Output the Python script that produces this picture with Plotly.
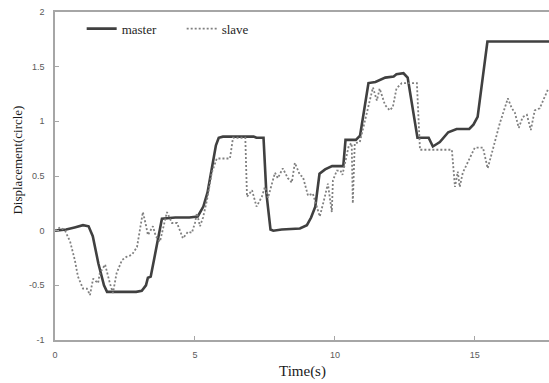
import plotly.graph_objects as go

master_t = [0, 0.4, 0.7, 1.0, 1.2, 1.35, 1.55, 1.75, 1.86, 2.9, 3.1, 3.25, 3.32, 3.42, 3.55, 3.7, 3.82,
            4.3, 4.8, 5.1, 5.3, 5.45, 5.6, 5.75, 5.85, 6.0, 7.1, 7.2, 7.45, 7.55, 7.7, 7.8, 8.1, 8.75,
            9.0, 9.15, 9.3, 9.45, 9.65, 9.9, 10.3, 10.38, 10.75, 10.9, 11.2, 11.45, 11.8, 12.1, 12.2,
            12.45, 12.6, 12.95, 13.35, 13.5, 13.75, 14.05, 14.35, 14.8, 14.95, 15.1, 15.45, 17.65]
master_v = [0, 0.01, 0.03, 0.05, 0.04, -0.05, -0.3, -0.5, -0.56, -0.56, -0.55, -0.5, -0.43, -0.42, -0.25, -0.05, 0.11,
            0.12, 0.12, 0.13, 0.22, 0.35, 0.55, 0.78, 0.85, 0.86, 0.86, 0.85, 0.85, 0.35, 0.01, 0.0, 0.01, 0.02,
            0.05, 0.12, 0.22, 0.52, 0.56, 0.59, 0.59, 0.83, 0.83, 0.87, 1.35, 1.36, 1.40, 1.41, 1.43,
            1.44, 1.40, 0.85, 0.85, 0.77, 0.81, 0.90, 0.93, 0.93, 0.97, 1.04, 1.73, 1.73]

slave_t = [0, 0.18, 0.36, 0.54, 0.71, 0.82, 1.0, 1.14, 1.25, 1.36, 1.45, 1.54, 1.6, 1.79, 1.96, 2.07,
           2.2, 2.39, 2.55, 2.75, 2.93, 3.14, 3.25, 3.32, 3.5, 3.6, 3.75, 3.85, 4.0, 4.18, 4.36, 4.57,
           4.75, 4.89, 5.0, 5.07, 5.18, 5.29, 5.43, 5.6, 5.78, 6.25, 6.36, 6.8, 6.86, 7.04, 7.2, 7.39,
           7.5, 7.61, 7.86, 7.96, 8.14, 8.32, 8.46, 8.57, 8.75, 8.86, 9.04, 9.21, 9.46, 9.64, 9.75,
           9.89, 9.93, 10.07, 10.2, 10.27, 10.5, 10.6, 10.64, 10.71, 10.89, 11.36, 11.5, 11.6, 11.79,
           11.96, 12.07, 12.2, 12.39, 12.93, 13.04, 14.18, 14.29, 14.39, 14.46, 14.57, 14.82, 15.0,
           15.29, 15.46, 15.64, 15.89, 16.18, 16.32, 16.43, 16.57, 16.71, 16.86, 17.0, 17.14, 17.32,
           17.43, 17.61]
slave_v = [0.0, 0.03, 0.0, -0.1, -0.27, -0.42, -0.53, -0.53, -0.59, -0.44, -0.46, -0.48, -0.39, -0.31, -0.48, -0.57,
           -0.39, -0.27, -0.24, -0.22, -0.15, 0.17, 0.05, -0.04, 0.04, -0.05, -0.1, 0.0, 0.17, 0.07, 0.07, -0.07,
           -0.01, -0.02, 0.07, 0.16, 0.04, 0.12, 0.28, 0.53, 0.66, 0.66, 0.85, 0.85, 0.31, 0.37, 0.22, 0.31,
           0.4, 0.3, 0.53, 0.48, 0.57, 0.48, 0.44, 0.62, 0.51, 0.49, 0.32, 0.34, 0.13, 0.31, 0.43,
           0.17, 0.46, 0.55, 0.55, 0.51, 0.78, 0.80, 0.25, 0.80, 0.81, 1.31, 1.19, 1.30, 1.15,
           1.10, 1.13, 1.30, 1.35, 1.35, 0.74, 0.74, 0.40, 0.54, 0.40, 0.53, 0.67, 0.76,
           0.76, 0.57, 0.74, 0.98, 1.21, 1.12, 1.08, 0.94, 1.04, 1.06, 0.92, 1.10, 1.12,
           1.18, 1.29]

x_ticks = [0, 5, 10, 15]
y_ticks = [-1, -0.5, 0, 0.5, 1, 1.5, 2]
y_tick_labels = ["-1", "-0.5", "0", "0.5", "1", "1.5", "2"]

fig = go.Figure()
fig.add_trace(go.Scatter(x=master_t, y=master_v, mode="lines", name="master",
                         line=dict(color="#404040", width=2.6)))
fig.add_trace(go.Scatter(x=slave_t, y=slave_v, mode="lines", name="slave",
                         line=dict(color="#808080", width=1.8, dash="2px,2px")))

axis_common = dict(showgrid=False, zeroline=False, showline=True, linecolor="#a6a6a6", linewidth=1.5,
                   ticks="inside", ticklen=4, tickcolor="#a6a6a6", tickwidth=1, automargin=False,
                   tickfont=dict(family="Liberation Sans", size=9, color="#595959"))

fig.update_layout(
    width=549, height=383,
    margin=dict(l=55, r=0, t=12, b=43, autoexpand=False),
    plot_bgcolor="white", paper_bgcolor="white",
    xaxis=dict(range=[0, 17.65], tickvals=x_ticks, mirror=True, ticklabelstandoff=5, **axis_common),
    yaxis=dict(range=[-1, 2], tickvals=y_ticks, ticktext=y_tick_labels, ticklabelstandoff=7,
               **axis_common),
    showlegend=True,
    legend=dict(orientation="h", x=0.054, y=0.995, xanchor="left", yanchor="top",
                font=dict(family="Liberation Serif", size=13, color="#262626"),
                entrywidth=55, entrywidthmode="pixels", itemwidth=30, bgcolor="rgba(0,0,0,0)"),
    annotations=[
        dict(text="Displacement(circle)", textangle=-90, x=-0.075, y=0.55,
             xref="paper", yref="paper", showarrow=False, xanchor="center", yanchor="middle",
             font=dict(family="Liberation Serif", size=13, color="#1a1a1a")),
        dict(text="Time(s)", x=0.5, y=-0.095, xref="paper", yref="paper", showarrow=False,
             xanchor="center", yanchor="middle",
             font=dict(family="Liberation Serif", size=15, color="#1a1a1a")),
    ],
)

fig.write_html("out.html", config={"displayModeBar": False},
               post_script="document.body.style.margin='0';document.body.style.overflow='hidden';")
